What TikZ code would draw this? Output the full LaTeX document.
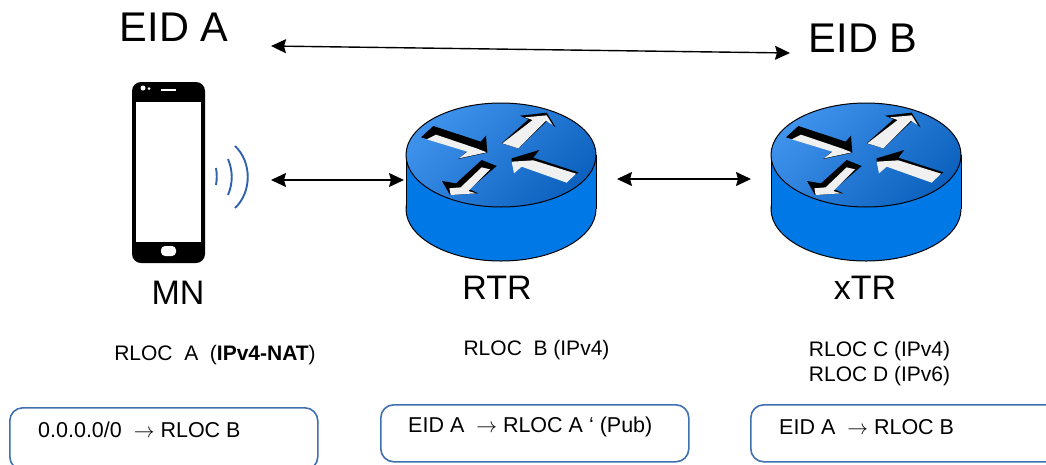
\documentclass[tikz,border=0pt]{standalone}
\usepackage{fontspec}
\setmainfont{Liberation Sans}
\usetikzlibrary{arrows.meta}
\definecolor{routerblue}{HTML}{0078E6}
\definecolor{routerlight}{HTML}{3F92EC}
\definecolor{routerdark}{HTML}{0C62BE}
\definecolor{boxblue}{HTML}{3F6FB0}
\definecolor{waveblue}{HTML}{2F62AC}
\definecolor{arrowwhite}{HTML}{F0F0F0}
\tikzset{
  biglabel/.style={font=\fontsize{41.5}{41.5}\selectfont},
  namelabel/.style={font=\fontsize{34}{34}\selectfont},
  rloclabel/.style={font=\fontsize{21}{24.5}\selectfont,align=center},
  tablebox/.style={draw=boxblue,line width=1.6pt,rounded corners=13pt,anchor=north west,inner sep=0pt},
  tabletext/.style={font=\fontsize{21.5}{24}\selectfont,anchor=west,inner sep=0pt},
  link/.style={line width=1.4pt,{Stealth[length=15pt,width=14pt,inset=2pt]}-{Stealth[length=15pt,width=14pt,inset=2pt]}},
  wave/.style={draw=waveblue,line width=1.9pt},
  pics/router/.style={code={
    % body
    \fill[routerblue] (-95,0) rectangle (95,54);
    \draw[line width=1pt,fill=routerblue] (0,54) ellipse (95 and 52);
    \fill[routerblue] (-94.5,0) rectangle (94.5,54);
    \draw[line width=1pt] (-95,0)--(-95,54);
    \draw[line width=1pt] (95,0)--(95,54);
    \draw[line width=1pt,top color=routerlight,bottom color=routerdark,shading angle=45] (0,0) ellipse (95 and 52);
    % arrows
    \begin{scope}[shift={(-111,-65)},scale=1/3]
      \fill (93,142)--(130,108)--(272,155)--(288,137)--(292,188)--(205,207)--(232,183)--cycle;
      \fill[arrowwhite] (110,148)--(138,134)--(262,176)--(290,187)--(207,205)--(232,185)--cycle;
      \fill (335,160)--(415,88)--(390,77)--(470,68)--(497,112)--(472,92)--(385,175)--cycle;
      \fill[arrowwhite] (337,160)--(428,90)--(405,82)--(470,76)--(488,105)--(468,92)--(385,175)--cycle;
      \fill (365,205)--(448,180)--(430,203)--(565,247)--(558,253)--(430,214)--(365,218)--cycle;
      \fill[arrowwhite] (365,215)--(430,211)--(558,251)--(530,278)--(395,230)--(372,250)--cycle;
      \fill (320,228)--(275,210)--(198,280)--(156,273)--(180,315)--(265,310)--(238,298)--cycle;
      \fill[arrowwhite] (300,238)--(275,232)--(212,292)--(178,295)--(182,315)--(258,310)--(235,303)--cycle;
    \end{scope}
  }}
}
\begin{document}
\begin{tikzpicture}[x=1pt,y=-1pt,line join=round]
  \clip (0,0) rectangle (1046,464);
  % labels
  \node[biglabel] (eidA) at (174,27) {EID A};
  \node[biglabel] (eidB) at (863,38) {EID B};
  \node[namelabel] (mn) at (178,293) {MN};
  \node[namelabel] (rtr) at (497,288) {RTR};
  \node[namelabel] (xtr) at (865,288) {xTR};
  \node[rloclabel] (rlocA) at (215,355) {RLOC\ \ A\ \ (\textbf{IPv4-NAT})};
  \node[rloclabel] (rlocB) at (536.5,350) {RLOC\ \ B (IPv4)};
  \node[rloclabel] (rlocC) at (879.5,363.5) {RLOC C (IPv4)\\RLOC D (IPv6)};
  % phone
  \fill[rounded corners=9pt] (132,82) rectangle (205,263);
  \fill[white] (136,102) rectangle (201,242);
  \fill[white] (143,88) circle (2.5);
  \fill[white] (149,88.5) circle (1.5);
  \fill[white] (161,89) rectangle (176,91);
  \fill[white,rounded corners=4pt] (161,246) rectangle (176,256);
  % waves
  \draw[wave] (216,168) .. controls (217,174) and (217,179) .. (216,185);
  \draw[wave] (228,159) .. controls (233,171) and (233,183) .. (228,195);
  \draw[wave] (235,146) .. controls (252,162) and (252,192) .. (235,208);
  % routers
  \pic at (501,155) {router};
  \pic at (866,155) {router};
  % connectors
  \coordinate (topL) at (271,46);
  \coordinate (topR) at (790,53);
  \coordinate (mnR) at (271,180);
  \coordinate (rtrL) at (404,180);
  \coordinate (rtrR) at (617,179);
  \coordinate (xtrL) at (751,179);
  \draw[link] (topL)--(topR);
  \draw[link] (mnR)--(rtrL);
  \draw[link] (rtrR)--(xtrL);
  % tables
  \node[tablebox,minimum width=308pt,minimum height=62pt] (tabA) at (9,407) {};
  \node[tablebox,minimum width=308pt,minimum height=57pt] (tabB) at (380,404) {};
  \node[tablebox,minimum width=308pt,minimum height=57pt] (tabC) at (750,404) {};
  \node[tabletext] (tabAtext) at (38,430) {0.0.0.0/0\ \ $\rightarrow$ RLOC B};
  \node[tabletext] (tabBtext) at (408,427) {EID A\ \ $\rightarrow$ RLOC A ‘ (Pub)};
  \node[tabletext] (tabCtext) at (779,427) {EID A\ \ $\rightarrow$ RLOC B};
\end{tikzpicture}
\end{document}
